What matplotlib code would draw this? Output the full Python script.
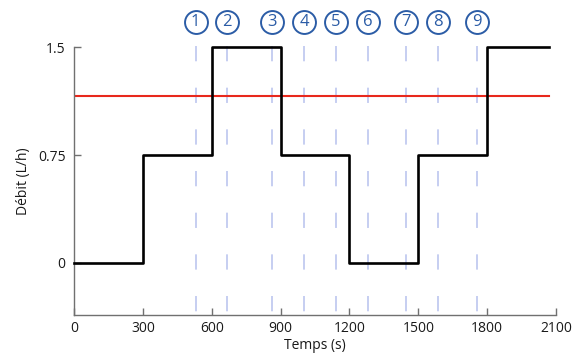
import matplotlib.pyplot as plt
import numpy as np

plt.rcParams['font.family'] = ['Open Sans', 'DejaVu Sans']
plt.rcParams['lines.scale_dashes'] = False

# Daten
temps = [0, 300, 600, 900, 1200, 1500, 1800, 2070]
debit = [0, 0.75, 1.5, 0.75, 0, 0.75, 1.5, 1.5]
seuil = 1.16
t_fin = 2070
mesures = [530, 668, 863, 1002, 1141, 1280, 1446, 1585, 1754]
numeros = ['1', '2', '3', '4', '5', '6', '7', '8', '9']
x_ticks = [0, 300, 600, 900, 1200, 1500, 1800, 2100]
y_ticks = [0, 0.75, 1.5]
y_labels = ['0', '0.75', '1.5']

fig = plt.figure(figsize=(5.76, 3.6), dpi=100)
ax = fig.add_axes([0.1285, 0.125, 0.9653 - 0.1285, 0.8686 - 0.125])

bleu_clair = '#bcc6ef'
bleu = '#2b5ca6'

# Lignes verticales en pointillés
for t in mesures:
    ax.plot([t, t], [1.51, -0.364], color=bleu_clair, lw=1.2,
            dashes=(11, 19), clip_on=False, zorder=1)

# Seuil
ax.plot([0, t_fin], [seuil, seuil], color='#e8281c', lw=1.5, zorder=2)

# Débit
ax.step(temps, debit, where='post', color='black', lw=1.9, clip_on=False, zorder=3)

# Numéros entourés
trans = ax.get_xaxis_transform()
for t, n in zip(mesures, numeros):
    ax.plot(t, 1.096, 'o', ms=16.5, mfc='white', mec=bleu, mew=1.4,
            transform=trans, clip_on=False, zorder=5)
    ax.text(t, 1.094, n, color=bleu, fontsize=12, ha='center', va='center',
            transform=trans, zorder=6)

ax.set_xlim(0, 2100)
ax.set_ylim(-0.364, 1.5)
ax.set_xticks(x_ticks)
ax.set_yticks(y_ticks)
ax.set_yticklabels(y_labels)

for s in ['top', 'right']:
    ax.spines[s].set_visible(False)
for s in ['left', 'bottom']:
    ax.spines[s].set_color('#707070')
    ax.spines[s].set_linewidth(1.0)

ax.tick_params(direction='in', length=5, width=1, color='#707070',
               labelsize=10, labelcolor='#1a1a1a')
ax.tick_params(axis='x', pad=4)
ax.tick_params(axis='y', pad=6)

ax.set_xlabel('Temps (s)', fontsize=10, color='#1a1a1a', labelpad=2)
ax.set_ylabel('Débit (L/h)', fontsize=10, color='#1a1a1a', labelpad=5)

fig.savefig('out.png', dpi=100)
